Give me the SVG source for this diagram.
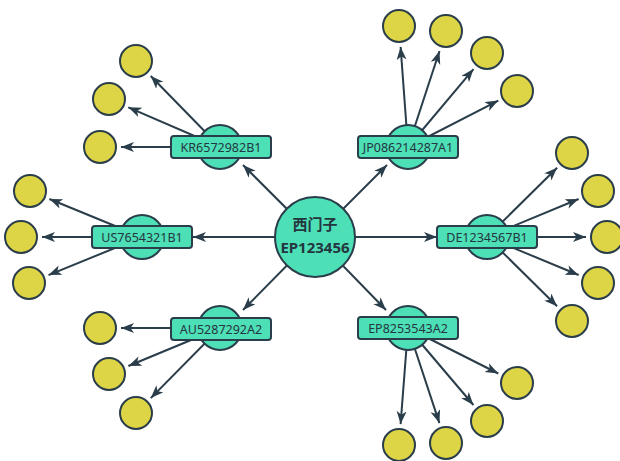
<svg xmlns="http://www.w3.org/2000/svg" width="620" height="461" viewBox="0 0 620 461">
  <style>
    .edge { stroke: #2a3d4a; stroke-width: 2; fill: none; marker-end: url(#arrow); }
    .hub { fill: #4ddfb6; stroke: #2a3d4a; stroke-width: 2; }
    .tag { fill: #4ddfb6; stroke: #2a3d4a; stroke-width: 2; }
    .leaf { fill: #ddd545; stroke: #2a3d4a; stroke-width: 2; }
    .lbl { font-family: "Noto Sans", "Open Sans", sans-serif; font-size: 12.5px; fill: #24363f; text-anchor: middle; }
    .main { font-family: "Noto Sans", "Noto Sans CJK SC", sans-serif; font-size: 15px; font-weight: bold; fill: #24363f; text-anchor: middle; }
  </style>
  <defs>
    <marker id="arrow" markerUnits="userSpaceOnUse" markerWidth="14" markerHeight="11" refX="13" refY="5" orient="auto">
      <path d="M0,0 L13,5 L0,10 L3.5,5 z" fill="#2a3d4a"/>
    </marker>
  </defs>

  <g id="connectors">
    <!-- root to patents -->
    <line class="edge" x1="315" y1="237" x2="243" y2="165"/>
    <line class="edge" x1="315" y1="237" x2="387" y2="165"/>
    <line class="edge" x1="315" y1="237" x2="437" y2="237"/>
    <line class="edge" x1="315" y1="237" x2="193" y2="237"/>
    <line class="edge" x1="315" y1="237" x2="243" y2="310"/>
    <line class="edge" x1="315" y1="237" x2="386" y2="310"/>
    <!-- KR leaves -->
    <line class="edge" x1="220" y1="147" x2="150.7" y2="76"/>
    <line class="edge" x1="220" y1="147" x2="128.3" y2="107.3"/>
    <line class="edge" x1="220" y1="147" x2="121" y2="147"/>
    <!-- JP leaves -->
    <line class="edge" x1="408" y1="147" x2="400.6" y2="46.9"/>
    <line class="edge" x1="408" y1="147" x2="439.5" y2="51"/>
    <line class="edge" x1="408" y1="147" x2="473.5" y2="69.1"/>
    <line class="edge" x1="408" y1="147" x2="498.3" y2="100.6"/>
    <!-- DE leaves -->
    <line class="edge" x1="487" y1="237" x2="557.1" y2="167.8"/>
    <line class="edge" x1="487" y1="237" x2="578.6" y2="199"/>
    <line class="edge" x1="487" y1="237" x2="586" y2="237"/>
    <line class="edge" x1="487" y1="237" x2="578.6" y2="275"/>
    <line class="edge" x1="487" y1="237" x2="557.1" y2="306.2"/>
    <!-- US leaves -->
    <line class="edge" x1="142" y1="237" x2="49.4" y2="199"/>
    <line class="edge" x1="142" y1="237" x2="42" y2="237"/>
    <line class="edge" x1="142" y1="237" x2="48.5" y2="275.1"/>
    <!-- AU leaves -->
    <line class="edge" x1="220" y1="328" x2="121" y2="328"/>
    <line class="edge" x1="220" y1="328" x2="128.4" y2="366"/>
    <line class="edge" x1="220" y1="328" x2="150.8" y2="398.1"/>
    <!-- EP leaves -->
    <line class="edge" x1="408" y1="328" x2="498.3" y2="373.5"/>
    <line class="edge" x1="408" y1="328" x2="473.4" y2="405"/>
    <line class="edge" x1="408" y1="328" x2="439.4" y2="423.1"/>
    <line class="edge" x1="408" y1="328" x2="400.6" y2="424.1"/>
  </g>

  <g id="root">
    <circle class="hub" cx="315" cy="237" r="40"/>
    <text class="main" x="315" y="230">西门子</text>
    <text class="main" x="315" y="253">EP123456</text>
  </g>

  <g id="kr6572982b1">
    <circle class="hub" cx="220" cy="147" r="22"/>
    <rect class="tag" x="171" y="136" width="100" height="22" rx="3"/>
    <text class="lbl" x="221" y="151.5">KR6572982B1</text>
  </g>
  <g id="jp086214287a1">
    <circle class="hub" cx="408" cy="147" r="22"/>
    <rect class="tag" x="358" y="136" width="100" height="22" rx="3"/>
    <text class="lbl" x="408" y="151.5">JP086214287A1</text>
  </g>
  <g id="de1234567b1">
    <circle class="hub" cx="487" cy="237" r="22"/>
    <rect class="tag" x="437" y="226" width="100" height="22" rx="3"/>
    <text class="lbl" x="487" y="241.5">DE1234567B1</text>
  </g>
  <g id="us7654321b1">
    <circle class="hub" cx="142" cy="237" r="22"/>
    <rect class="tag" x="92" y="226" width="100" height="22" rx="3"/>
    <text class="lbl" x="142" y="241.5">US7654321B1</text>
  </g>
  <g id="au5287292a2">
    <circle class="hub" cx="220" cy="328" r="22"/>
    <rect class="tag" x="171" y="318" width="100" height="22" rx="3"/>
    <text class="lbl" x="221" y="333.5">AU5287292A2</text>
  </g>
  <g id="ep8253543a2">
    <circle class="hub" cx="408" cy="328" r="22"/>
    <rect class="tag" x="358" y="317" width="100" height="22" rx="3"/>
    <text class="lbl" x="408" y="332.5">EP8253543A2</text>
  </g>

  <g id="leaves">
    <circle class="leaf" cx="136" cy="61" r="16"/>
    <circle class="leaf" cx="109" cy="99" r="16"/>
    <circle class="leaf" cx="100" cy="147" r="16"/>

    <circle class="leaf" cx="399" cy="26" r="16"/>
    <circle class="leaf" cx="446" cy="31" r="16"/>
    <circle class="leaf" cx="487" cy="53" r="16"/>
    <circle class="leaf" cx="517" cy="91" r="16"/>

    <circle class="leaf" cx="572" cy="153" r="16"/>
    <circle class="leaf" cx="598" cy="191" r="16"/>
    <circle class="leaf" cx="607" cy="237" r="16"/>
    <circle class="leaf" cx="598" cy="283" r="16"/>
    <circle class="leaf" cx="572" cy="321" r="16"/>

    <circle class="leaf" cx="30" cy="191" r="16"/>
    <circle class="leaf" cx="21" cy="237" r="16"/>
    <circle class="leaf" cx="29" cy="283" r="16"/>

    <circle class="leaf" cx="100" cy="328" r="16"/>
    <circle class="leaf" cx="109" cy="374" r="16"/>
    <circle class="leaf" cx="136" cy="413" r="16"/>

    <circle class="leaf" cx="517" cy="383" r="16"/>
    <circle class="leaf" cx="487" cy="421" r="16"/>
    <circle class="leaf" cx="446" cy="443" r="16"/>
    <circle class="leaf" cx="399" cy="445" r="16"/>
  </g>
</svg>
